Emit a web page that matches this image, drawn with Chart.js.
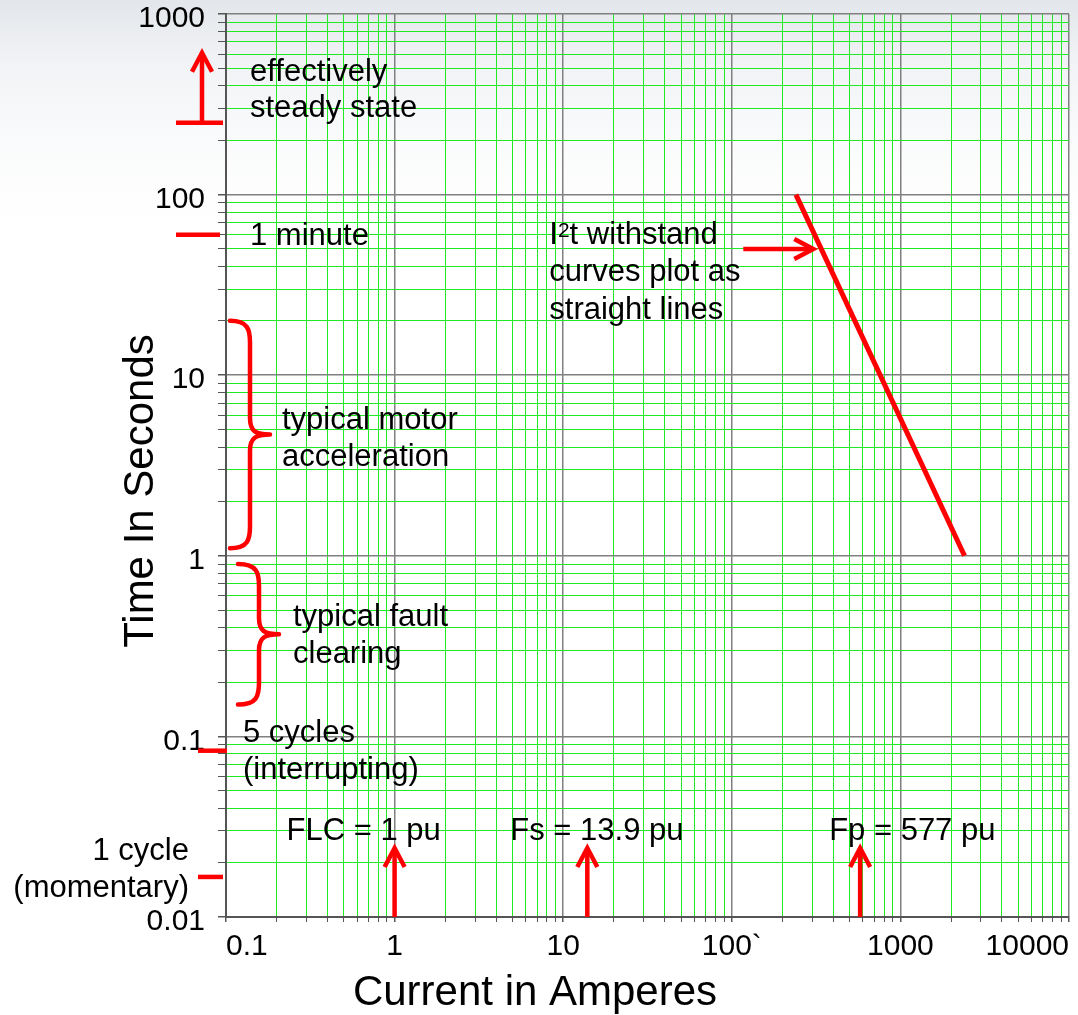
<!DOCTYPE html>
<html>
<head>
<meta charset="utf-8">
<title>Time-current coordination chart</title>
<script src="https://cdn.jsdelivr.net/npm/chart.js@4/dist/chart.umd.min.js"></script>
<style>
  html, body { margin: 0; padding: 0; background: #fff; overflow: hidden; }
  #wrap { width: 1078px; height: 1015px; position: relative; }
</style>
</head>
<body>
<div id="wrap"><canvas id="tcc" width="1078" height="1015"></canvas></div>
<script>
const FONT = '"Liberation Sans", Arial, Helvetica, sans-serif';
const RED = '#ff0000';

// Axis decades and their labels
const currentDecades = [0.1, 1, 10, 100, 1000, 10000];
const currentTickLabels = ['0.1', '1', '10', '100`', '1000', '10000'];
const timeDecades = [0.01, 0.1, 1, 10, 100, 1000];
const timeTickLabels = ['0.01', '0.1', '1', '10', '100', '1000'];

// I²t withstand line (current in A, time in s)
const withstandCurrent = [240, 2400];
const withstandTime = [100, 1];

// Per-unit current markers
const puNames = ['FLC = 1 pu', 'Fs = 13.9 pu', 'Fp = 577 pu'];
const puCurrent = [1, 13.9, 577];

// Time markers on the left side
const markLines = [['effectively', 'steady state'], ['1 minute'], ['5 cycles', '(interrupting)'], ['1 cycle', '(momentary)']];
const markTime = [250, 60, 5 / 60, 1 / 60];

// Time ranges shown with braces
const spanLines = [['typical motor', 'acceleration'], ['typical fault', 'clearing']];
const spanFrom = [1.1, 0.15];
const spanTo = [20, 0.9];

// Note pointing at the withstand line (first line is preceded by "I²")
const noteLines = ['t withstand', 'curves plot as', 'straight lines'];
const noteTime = 50;

// 1..9 lines within every decade
function decadeGrid(decades) {
  const out = [];
  decades.forEach((d, i) => {
    if (i === decades.length - 1) { out.push(d); return; }
    for (let k = 1; k < 10; k++) out.push(+(k * d).toPrecision(8));
  });
  return out;
}
const currentGrid = decadeGrid(currentDecades);
const timeGrid = decadeGrid(timeDecades);

function isDecade(v) {
  const l = Math.log10(v);
  return Math.abs(l - Math.round(l)) < 1e-9;
}
function labelFor(decades, labels, v) {
  const i = decades.findIndex(d => Math.abs(d - v) / d < 1e-9);
  return i >= 0 ? labels[i] : '';
}

const gridStyle = {
  color: c => (c.tick && isDecade(c.tick.value)) ? '#808080' : '#22ea22',
  lineWidth: c => (c.tick && isDecade(c.tick.value)) ? 1.5 : 1,
  tickColor: '#555'
};

// ---- drawing helpers ----
function seg(ctx, x1, y1, x2, y2) {
  ctx.beginPath(); ctx.moveTo(x1, y1); ctx.lineTo(x2, y2); ctx.stroke();
}
function chevron(ctx, tx, ty, dx, dy) {
  const len = 19, half = 10;
  const bx = tx - dx * len, by = ty - dy * len;
  const nx = -dy, ny = dx;
  ctx.beginPath();
  ctx.moveTo(bx + nx * half, by + ny * half);
  ctx.lineTo(tx, ty);
  ctx.lineTo(bx - nx * half, by - ny * half);
  ctx.stroke();
}
function brace(ctx, x0, xs, xt, yTop, yBot) {
  const yMid = (yTop + yBot) / 2;
  const rEnd = 22, rMid = 16;
  ctx.beginPath();
  ctx.moveTo(x0, yTop);
  ctx.bezierCurveTo(xs - 2, yTop, xs, yTop + rEnd * 0.4, xs, yTop + rEnd);
  ctx.lineTo(xs, yMid - rMid);
  ctx.bezierCurveTo(xs, yMid - rMid * 0.2, xs + (xt - xs) * 0.3, yMid, xt, yMid);
  ctx.bezierCurveTo(xs + (xt - xs) * 0.3, yMid, xs, yMid + rMid * 0.2, xs, yMid + rMid);
  ctx.lineTo(xs, yBot - rEnd);
  ctx.bezierCurveTo(xs, yBot - rEnd * 0.4, xs - 2, yBot, x0, yBot);
  ctx.stroke();
}
function lines(ctx, list, x, y0, step, align) {
  ctx.textAlign = align || 'left';
  list.forEach((t, i) => ctx.fillText(t, x, y0 + i * step));
}

const paper = {
  id: 'paper',
  beforeDraw(chart) {
    const { ctx, width, height } = chart;
    ctx.save();
    ctx.fillStyle = '#ffffff';
    ctx.fillRect(0, 0, width, height);
    const g = ctx.createLinearGradient(0, 0, 0, 260);
    g.addColorStop(0, '#e3e6ea');
    g.addColorStop(0.2, '#eff1f4');
    g.addColorStop(1, 'rgba(255,255,255,0)');
    ctx.fillStyle = g;
    ctx.fillRect(0, 0, width, 260);
    ctx.restore();
  }
};

const notes = {
  id: 'notes',
  afterDraw(chart) {
    const { ctx, chartArea: area, scales } = chart;
    const X = v => scales.x.getPixelForValue(v);
    const Y = v => scales.y.getPixelForValue(v);
    const L = area.left;
    ctx.save();
    ctx.strokeStyle = RED;
    ctx.fillStyle = '#000';
    ctx.lineWidth = 4.5;
    ctx.lineCap = 'butt';
    ctx.lineJoin = 'miter';
    ctx.textBaseline = 'alphabetic';
    ctx.font = '31px ' + FONT;

    // steady state: bar with arrow pointing up
    let yb = Y(markTime[0]);
    seg(ctx, L - 50, yb, L - 3, yb);
    seg(ctx, L - 24, yb, L - 24, yb - 68);
    chevron(ctx, L - 24, yb - 70, 0, -1);
    lines(ctx, markLines[0], L + 24, yb - 42, 36);

    // one minute
    yb = Y(markTime[1]);
    seg(ctx, L - 50, yb, L - 6, yb);
    lines(ctx, markLines[1], L + 24, yb + 10, 36);

    // five cycles
    yb = Y(markTime[2]);
    seg(ctx, L - 28, yb, L + 1, yb);
    lines(ctx, markLines[2], L + 17, yb - 9, 37);

    // one cycle
    yb = Y(markTime[3]);
    seg(ctx, L - 28, yb, L - 3, yb);
    lines(ctx, markLines[3], L - 37, yb - 17, 37, 'right');

    // braces for typical durations
    ctx.lineCap = 'round';
    ctx.lineJoin = 'round';
    const braceX = [[4, 24, 44, 56], [12, 33, 53, 67]];
    spanLines.forEach((txt, i) => {
      const top = Y(spanTo[i]), bot = Y(spanFrom[i]);
      const mid = (top + bot) / 2;
      const b = braceX[i];
      brace(ctx, L + b[0], L + b[1], L + b[2], top, bot);
      lines(ctx, txt, L + b[3], mid - 6 - i * 2, 37);
    });
    ctx.lineCap = 'butt';
    ctx.lineJoin = 'miter';

    // per-unit current arrows
    const puShift = [-108, -77, -31];
    puCurrent.forEach((c, i) => {
      const xa = X(c);
      seg(ctx, xa, area.bottom, xa, area.bottom - 67);
      chevron(ctx, xa, area.bottom - 69, 0, -1);
      ctx.textAlign = 'left';
      ctx.fillText(puNames[i], xa + puShift[i], area.bottom - 77);
    });

    // pointer to the withstand line
    const lineI = withstandCurrent[0] * Math.sqrt(withstandTime[0] / noteTime);
    const tip = X(lineI) - 8, ya = Y(noteTime);
    seg(ctx, tip - 70, ya, tip - 2, ya);
    chevron(ctx, tip, ya, 1, 0);
    const tx = tip - 264, tb = ya - 5;
    ctx.textAlign = 'left';
    ctx.fillText('I', tx, tb);
    const wI = ctx.measureText('I').width;
    ctx.font = '21px ' + FONT;
    ctx.fillText('2', tx + wI, tb - 7);
    const w2 = ctx.measureText('2').width;
    ctx.font = '31px ' + FONT;
    ctx.fillText(noteLines[0], tx + wI + w2, tb);
    ctx.fillText(noteLines[1], tx, tb + 37);
    ctx.fillText(noteLines[2], tx, tb + 75);

    // axis titles
    ctx.font = '42px ' + FONT;
    ctx.textAlign = 'center';
    ctx.fillText('Current in Amperes', 535, 1005);
    ctx.save();
    ctx.translate(153, 491);
    ctx.rotate(-Math.PI / 2);
    ctx.fillText('Time In Seconds', 0, 0);
    ctx.restore();

    ctx.restore();
  }
};

new Chart(document.getElementById('tcc'), {
  type: 'line',
  data: {
    datasets: [{
      label: 'I²t withstand',
      data: withstandCurrent.map((c, i) => ({ x: c, y: withstandTime[i] })),
      borderColor: RED,
      borderWidth: 5,
      pointRadius: 0,
      tension: 0,
      fill: false
    }]
  },
  options: {
    responsive: false,
    animation: false,
    devicePixelRatio: 1,
    layout: { padding: { top: 14, right: 9, bottom: 0, left: 0 } },
    plugins: { legend: { display: false }, tooltip: { enabled: false } },
    scales: {
      x: {
        type: 'logarithmic',
        position: 'bottom',
        min: currentDecades[0],
        max: currentDecades[currentDecades.length - 1],
        afterBuildTicks: s => { s.ticks = currentGrid.map(v => ({ value: v })); },
        afterFit: s => { s.height = 98; s.paddingLeft = 0; s.paddingRight = 0; },
        ticks: {
          autoSkip: false,
          maxRotation: 0,
          minRotation: 0,
          align: 'inner',
          padding: 7,
          color: '#000',
          font: { family: FONT, size: 30 },
          callback: v => labelFor(currentDecades, currentTickLabels, v)
        },
        grid: Object.assign({ tickLength: 5 }, gridStyle),
        border: { color: '#555', width: 2 }
      },
      y: {
        type: 'logarithmic',
        position: 'left',
        min: timeDecades[0],
        max: timeDecades[timeDecades.length - 1],
        afterBuildTicks: s => { s.ticks = timeGrid.map(v => ({ value: v })); },
        afterFit: s => { s.width = 226; s.paddingTop = 0; s.paddingBottom = 0; },
        ticks: {
          autoSkip: false,
          padding: 13,
          labelOffset: 5,
          color: '#000',
          font: { family: FONT, size: 30 },
          callback: v => labelFor(timeDecades, timeTickLabels, v)
        },
        grid: Object.assign({ tickLength: 8 }, gridStyle),
        border: { color: '#555', width: 2 }
      }
    }
  },
  plugins: [paper, notes]
});
</script>
</body>
</html>
